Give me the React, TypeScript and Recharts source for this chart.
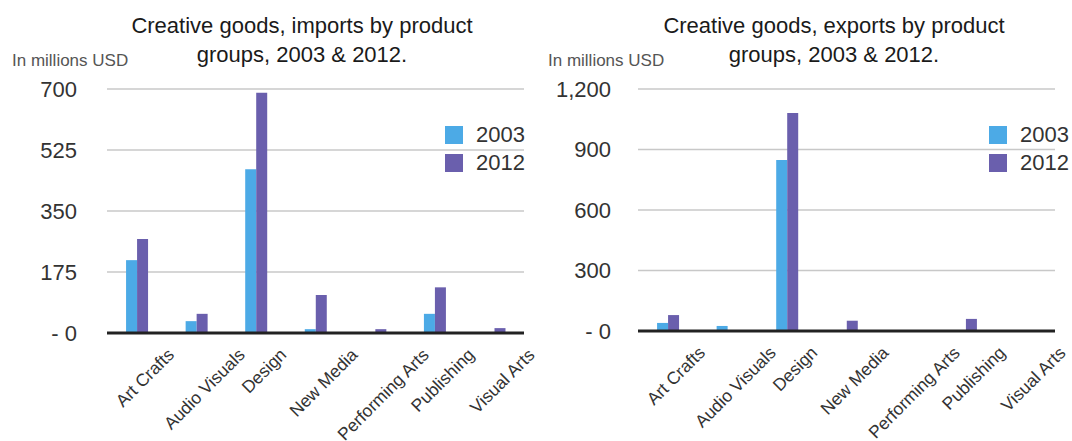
import React from "react";
import {
  BarChart,
  Bar,
  XAxis,
  YAxis,
  CartesianGrid,
  Legend,
} from "recharts";

const categories = [
  "Art Crafts",
  "Audio Visuals",
  "Design",
  "New Media",
  "Performing Arts",
  "Publishing",
  "Visual Arts",
];
const years = ["2003", "2012"];

const imports2003 = [209, 34, 470, 11, 0, 55, 0];
const imports2012 = [270, 55, 689, 109, 11, 131, 14];
const importTicks = [0, 175, 350, 525, 700];

const exports2003 = [40, 25, 848, 0, 0, 3, 0];
const exports2012 = [79, 0, 1081, 51, 0, 60, 0];
const exportTicks = [0, 300, 600, 900, 1200];

const COLORS = ["#4caae6", "#6a5fad"];
const FONT = '"Liberation Sans", Arial, sans-serif';
const LABEL_SIZE = 17.5;

let canvas: HTMLCanvasElement | null = null;
const measure = (s: string) => {
  if (!canvas) canvas = document.createElement("canvas");
  const ctx = canvas.getContext("2d");
  if (!ctx) return s.length * 8;
  ctx.font = `${LABEL_SIZE}px "Liberation Sans"`;
  return ctx.measureText(s).width;
};

// rotated labels: bounding box centred on the category, top edge just below the axis
const CategoryTick = (props: any) => {
  const { x, y, payload } = props;
  const w = measure(payload.value);
  const half = (0.7071 * (w + LABEL_SIZE * 0.9)) / 2;
  return (
    <text
      x={0}
      y={0}
      textAnchor="middle"
      dominantBaseline="central"
      transform={`translate(${x + 8},${y + 13 + half}) rotate(-45)`}
      fontSize={LABEL_SIZE}
      fill="#333"
      fontFamily={FONT}
    >
      {payload.value}
    </text>
  );
};

const fmt = (v: number) => (v === 0 ? "- 0" : v.toLocaleString("en-US"));

const YearLegend = () => (
  <div style={{ fontSize: 22, color: "#333", lineHeight: "28px", fontFamily: FONT }}>
    {years.map((yr, i) => (
      <div key={yr} style={{ display: "flex", alignItems: "center" }}>
        <span
          style={{
            display: "inline-block",
            width: 18,
            height: 18,
            background: COLORS[i],
            marginRight: 13,
          }}
        />
        {yr}
      </div>
    ))}
  </div>
);

type PanelProps = {
  title: string[];
  titleCenter: number;
  s2003: number[];
  s2012: number[];
  ticks: number[];
  axisWidth: number;
  rightMargin: number;
  xAxisHeight: number;
  tickGap: number;
  legendLeft: number;
};

const Panel = (p: PanelProps) => {
  const data = categories.map((c, i) => ({
    name: c,
    y2003: p.s2003[i],
    y2012: p.s2012[i],
  }));
  return (
    <div style={{ position: "relative", width: 536, height: 441 }}>
      <div
        style={{
          position: "absolute",
          left: p.titleCenter - 250,
          width: 500,
          top: 11,
          textAlign: "center",
          fontSize: 22,
          lineHeight: "29px",
          color: "#1a1a1a",
          fontFamily: FONT,
        }}
      >
        {p.title[0]}
        <br />
        {p.title[1]}
      </div>
      <div
        style={{
          position: "absolute",
          left: 12,
          top: 52,
          fontSize: 17,
          lineHeight: "17px",
          color: "#555",
          fontFamily: FONT,
        }}
      >
        In millions USD
      </div>
      <BarChart
        width={536}
        height={441}
        data={data}
        margin={{ top: 89, right: p.rightMargin, left: 0, bottom: 0 }}
        barCategoryGap="32%"
        barGap={0}
      >
        <CartesianGrid vertical={false} stroke="#c8c8c8" strokeWidth={1.5} />
        <XAxis
          dataKey="name"
          interval={0}
          height={p.xAxisHeight}
          tickLine={false}
          tickSize={0}
          tickMargin={0}
          axisLine={{ stroke: "#222", strokeWidth: 3 }}
          tick={<CategoryTick />}
        />
        <YAxis
          width={p.axisWidth}
          domain={[0, p.ticks[p.ticks.length - 1]]}
          ticks={p.ticks}
          tickFormatter={fmt}
          axisLine={false}
          tickLine={false}
          tickSize={0}
          tickMargin={p.tickGap}
          tick={{ fontSize: 22, fill: "#333", fontFamily: FONT }}
        />
        <Legend
          layout="vertical"
          align="center"
          verticalAlign="middle"
          wrapperStyle={{ left: p.legendLeft, top: 121, width: "auto" }}
          content={<YearLegend />}
        />
        <Bar dataKey="y2003" name="2003" fill={COLORS[0]} isAnimationActive={false} />
        <Bar dataKey="y2012" name="2012" fill={COLORS[1]} isAnimationActive={false} />
      </BarChart>
    </div>
  );
};

export default function App() {
  return (
    <div
      style={{
        position: "absolute",
        left: 0,
        top: 0,
        width: 1072,
        height: 441,
        background: "#fff",
        display: "flex",
      }}
    >
      <style>{"svg.recharts-surface { overflow: visible; }"}</style>
      <Panel
        title={["Creative goods, imports by product", "groups, 2003 & 2012."]}
        titleCenter={302}
        s2003={imports2003}
        s2012={imports2012}
        ticks={importTicks}
        axisWidth={107}
        rightMargin={12}
        xAxisHeight={108}
        tickGap={30}
        legendLeft={445}
      />
      <Panel
        title={["Creative goods, exports by product", "groups, 2003 & 2012."]}
        titleCenter={298}
        s2003={exports2003}
        s2012={exports2012}
        ticks={exportTicks}
        axisWidth={102}
        rightMargin={17}
        xAxisHeight={110}
        tickGap={27}
        legendLeft={453}
      />
    </div>
  );
}
